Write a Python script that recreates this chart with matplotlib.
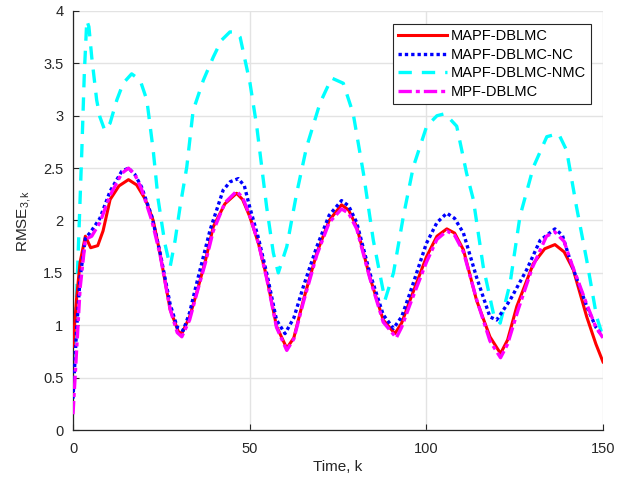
import matplotlib
matplotlib.use('Agg')
import matplotlib.pyplot as plt
from matplotlib.ticker import FuncFormatter

# values (k, RMSE)
k_red = [0, 1, 2, 3.5, 5, 7, 8.5, 10.5, 13, 15.7, 18, 20.5, 22.7, 24.6, 27.5, 29.8, 30.8,
         33, 35, 37.5, 39.7, 43, 46.3, 48, 50, 52.5, 54.8, 57.6, 60.5, 62.5, 65.2, 69, 72.5,
         76, 78, 80.3, 84, 87.8, 91.1, 93, 95.4, 100, 103, 105.8, 108, 110.5, 114.2, 118,
         121, 123, 125.6, 130.3, 133.5, 136.4, 139, 141.6, 145.4, 148, 150]
rmse_red = [0.8, 1.25, 1.6, 1.85, 1.74, 1.76, 1.9, 2.2, 2.33, 2.39, 2.34, 2.2, 2.0, 1.69, 1.15, 0.94, 0.92,
            1.08, 1.31, 1.62, 1.94, 2.16, 2.26, 2.2, 2.04, 1.78, 1.46, 0.99, 0.78, 0.88, 1.24, 1.69, 2.0,
            2.15, 2.1, 1.94, 1.46, 1.05, 0.92, 1.02, 1.24, 1.65, 1.85, 1.92, 1.88, 1.72, 1.24, 0.89,
            0.73, 0.86, 1.18, 1.59, 1.73, 1.77, 1.7, 1.53, 1.08, 0.82, 0.65]

k_blue = [0, 1, 2, 3.5, 5, 7.6, 10.5, 13.8, 15.7, 17.5, 19.4, 22.3, 24.6, 27.5, 29.5, 31.2,
          33, 35, 38.8, 42.5, 44.5, 46.8, 48.5, 50, 52.5, 55, 57.6, 60, 62.5, 65.2, 69, 72.5,
          76, 78, 80.3, 84, 87.8, 90.7, 93, 95.4, 100, 103, 105.8, 108, 110.5, 114.2, 118,
          119.9, 123.7, 128.4, 132.2, 136.4, 138.5, 140.7, 145.4, 148, 150]
rmse_blue = [0.3, 0.95, 1.45, 1.83, 1.89, 2.02, 2.28, 2.47, 2.5, 2.44, 2.32, 2.04, 1.7, 1.2, 0.98, 0.95,
             1.12, 1.4, 1.91, 2.29, 2.37, 2.4, 2.33, 2.13, 1.83, 1.47, 1.05, 0.92, 1.07, 1.37, 1.75, 2.05,
             2.19, 2.14, 1.98, 1.5, 1.1, 0.97, 1.08, 1.31, 1.78, 1.98, 2.07, 2.02, 1.88, 1.46, 1.08,
             1.05, 1.24, 1.53, 1.81, 1.92, 1.86, 1.62, 1.18, 0.98, 0.89]

k_cyan = [0, 0.7, 1.5, 2.5, 3.2, 3.9, 4.5, 5.3, 6.7, 7.6, 9, 10.5, 12.4, 14.2, 16.6, 19, 20.9,
          22.7, 24.1, 26, 27.5, 28.9, 30.3, 32.2, 34, 36.9, 39.7, 42, 44.4, 46, 47.3, 50.1, 52,
          54.8, 56.7, 58.1, 60.5, 63.3, 66.1, 69.9, 73.2, 76.5, 79.3, 82.2, 85, 88.3, 90.7,
          93.5, 96.3, 100.1, 103, 105.3, 108.6, 111.4, 113.3, 116.1, 119, 120.9, 123.7, 126.5,
          130.3, 134.1, 137.4, 139.7, 142.5, 145.4, 148.2, 150]
rmse_cyan = [0.6, 1.0, 1.72, 2.67, 3.4, 3.91, 3.85, 3.56, 3.15, 2.99, 2.86, 2.93, 3.15, 3.31, 3.4, 3.34, 3.15,
             2.67, 2.2, 1.78, 1.56, 1.81, 2.13, 2.51, 3.05, 3.34, 3.56, 3.72, 3.8, 3.8, 3.75, 3.31, 2.9,
             2.13, 1.69, 1.5, 1.75, 2.26, 2.7, 3.12, 3.36, 3.31, 3.02, 2.45, 1.81, 1.24, 1.5,
             2.04, 2.51, 2.9, 3.0, 3.02, 2.9, 2.45, 2.2, 1.56, 1.11, 1.02, 1.4, 2.04,
             2.51, 2.8, 2.83, 2.67, 2.13, 1.62, 1.08, 0.89]

k_mag = [0, 1, 2, 3.5, 5.3, 7.6, 10.5, 13.8, 15.7, 17.5, 19.4, 22.3, 24.6, 27.5, 29.5, 30.8,
         33, 35, 37.5, 39.7, 43, 46.3, 48, 50, 52.5, 54.8, 57.6, 60.5, 62.5, 65.2, 69, 72.5,
         76, 78, 80.3, 84, 87.8, 91.5, 93, 95.4, 100, 103, 105.8, 108, 110.5, 114.2, 118,
         121, 123, 126, 130, 134, 136.4, 139, 141, 145.4, 148, 150]
rmse_mag = [0.15, 0.75, 1.35, 1.82, 1.85, 1.98, 2.24, 2.45, 2.5, 2.44, 2.3, 2.0, 1.68, 1.15, 0.93, 0.89,
            1.05, 1.3, 1.6, 1.9, 2.17, 2.28, 2.22, 2.05, 1.78, 1.45, 0.98, 0.76, 0.87, 1.22, 1.67, 1.98,
            2.11, 2.07, 1.92, 1.45, 1.03, 0.88, 0.98, 1.2, 1.6, 1.82, 1.9, 1.86, 1.7, 1.25, 0.85,
            0.69, 0.82, 1.15, 1.55, 1.85, 1.89, 1.8, 1.6, 1.2, 0.98, 0.88]

labels = ['MAPF-DBLMC', 'MAPF-DBLMC-NC', 'MAPF-DBLMC-NMC', 'MPF-DBLMC']

plt.rcParams['font.family'] = ['Liberation Sans', 'DejaVu Sans']
plt.rcParams['mathtext.fontset'] = 'custom'
plt.rcParams['mathtext.rm'] = 'Liberation Sans'
plt.rcParams['mathtext.it'] = 'Liberation Sans'

fig = plt.figure(figsize=(6.41, 4.82), dpi=100)
ax = fig.add_axes([73 / 641, 52 / 482, 530 / 641, 419 / 482])

ax.plot(k_red, rmse_red, color='red', lw=2.2, label=labels[0], zorder=3)
ax.plot(k_blue, rmse_blue, color='blue', lw=2.4, ls=(0, (1, 0.9)), label=labels[1], zorder=4)
ax.plot(k_cyan, rmse_cyan, color='cyan', lw=2.4, ls=(0, (4, 3)), label=labels[2], zorder=2)
ax.plot(k_mag, rmse_mag, color='magenta', lw=2.4, ls=(0, (4, 1.2, 1.2, 1.2)), label=labels[3], zorder=5)

ax.set_xlim(0, 150)
ax.set_ylim(0, 4)
ax.set_xticks([0, 50, 100, 150])
ax.set_yticks([0, 0.5, 1, 1.5, 2, 2.5, 3, 3.5, 4])
ax.yaxis.set_major_formatter(FuncFormatter(lambda v, p: '%g' % v))
ax.grid(True, color='#e3e3e3', lw=1.0)
ax.set_axisbelow(True)
ax.tick_params(direction='in', length=4, labelsize=10.5, colors='#262626', width=0.8)
ax.tick_params(axis='x', pad=8.5)
ax.tick_params(axis='y', pad=7)
for s in ['top', 'right']:
    ax.spines[s].set_visible(False)
for s in ['left', 'bottom']:
    ax.spines[s].set_color('#262626')
    ax.spines[s].set_linewidth(0.9)

ax.set_xlabel('Time, k', fontsize=11, color='#262626', labelpad=3)
ax.set_ylabel(r'RMSE$_{3,k}$', fontsize=11, color='#262626', labelpad=7)

leg = ax.legend(loc='upper right', bbox_to_anchor=(0.9774, 0.969), fontsize=10.5, frameon=True,
                fancybox=False, edgecolor='#262626', framealpha=1, borderpad=0.35,
                labelspacing=0.32, handlelength=3.36, handletextpad=0.27, borderaxespad=0)
leg.get_frame().set_linewidth(0.8)

fig.savefig('out.png', dpi=100)
